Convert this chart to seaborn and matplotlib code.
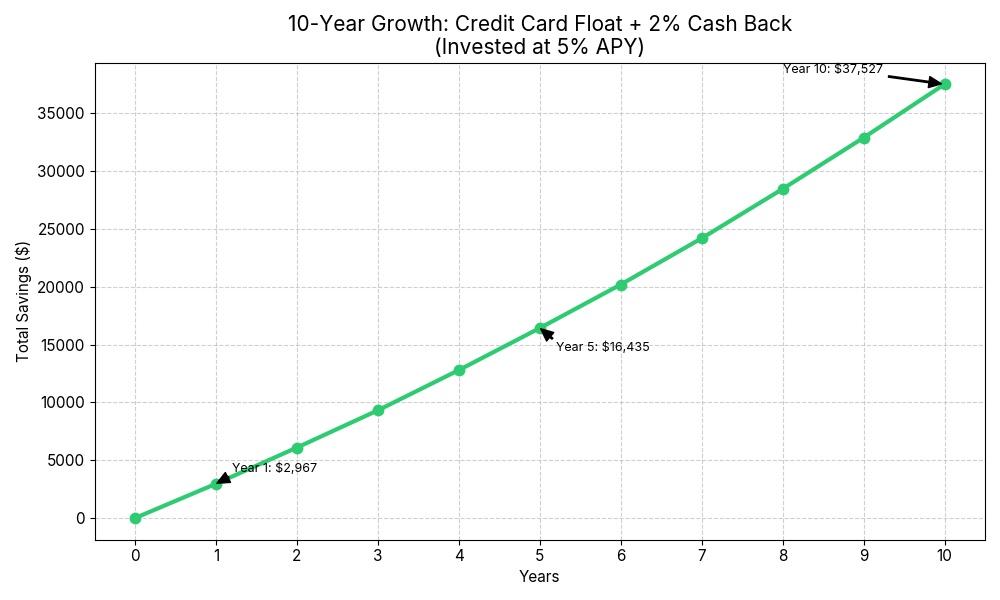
import numpy as np
import pandas as pd
import matplotlib
matplotlib.use("Agg")
import matplotlib.pyplot as plt
import seaborn as sb

### Data

years = [0, 1, 2, 3, 4, 5, 6, 7, 8, 9, 10]
savings = [0, 2967, 6100, 9320, 12800, 16435, 20200, 24200, 28470, 32900, 37527]
note_years = [1, 5, 10]
note_labels = ["Year 1: $2,967", "Year 5: $16,435", "Year 10: $37,527"]
note_text_pos = [(1.2, 3967), (5.2, 14435), (8.0, 38527)]

df = pd.DataFrame({"Years": years, "Savings": savings})

### Plotting routine

plt.rcParams["font.family"] = ["Inter", "DejaVu Sans"]
fig = plt.figure(figsize=(10, 6), dpi=100)
ax = sb.lineplot(data=df, x="Years", y="Savings", color="#2ecc71",
                 linewidth=3, marker="o", markersize=8.5, markeredgewidth=0)

for yr, lab, pos in zip(note_years, note_labels, note_text_pos):
    ax.annotate(lab, xy=(yr, savings[years.index(yr)]), xytext=pos,
                fontsize=9,
                arrowprops=dict(facecolor="black", shrink=0.05, width=1, headwidth=8, headlength=9))

plt.title("10-Year Growth: Credit Card Float + 2% Cash Back\n(Invested at 5% APY)", fontsize=15)
plt.xlabel("Years", fontsize=11)
plt.ylabel("Total Savings ($)", fontsize=11)
plt.xticks(years)
plt.tick_params(labelsize=11)
plt.grid(True, linestyle="--", alpha=0.6)
plt.tight_layout()
plt.savefig("out.png")
